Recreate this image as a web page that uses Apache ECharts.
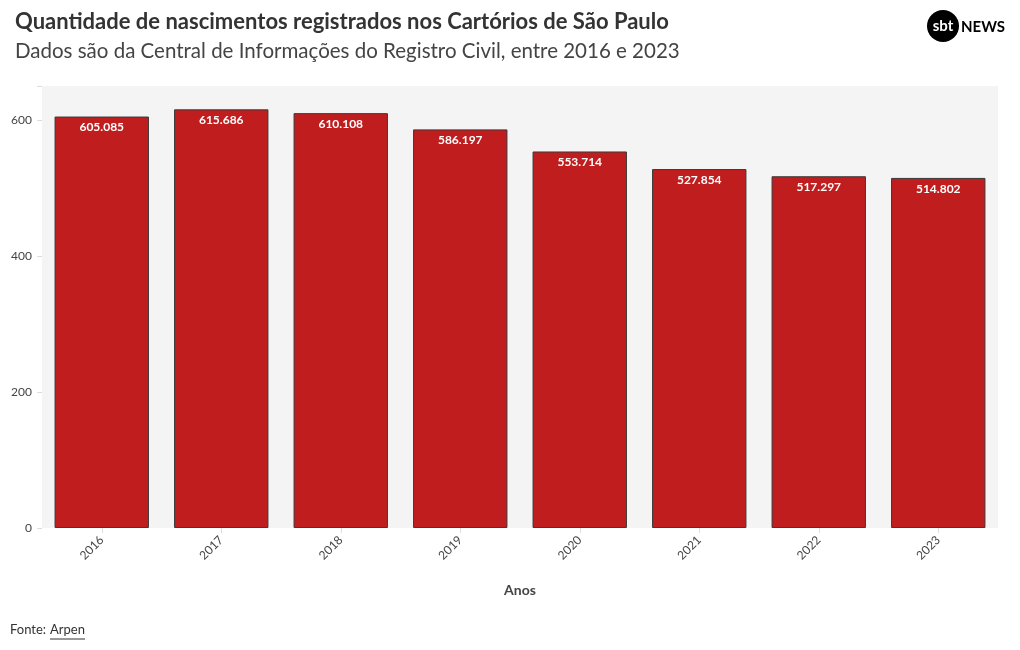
<!DOCTYPE html>
<html>
<head>
<meta charset="utf-8">
<script src="https://cdn.jsdelivr.net/npm/echarts@6/dist/echarts.min.js"></script>
<style>
	html, body { margin: 0; padding: 0; background: #fff; }
	#chart { width: 1020px; height: 650px; }
</style>
</head>
<body>
<div id="chart"></div>
<script>
	// anos e nascimentos (em milhares)
	var anos = ['2016', '2017', '2018', '2019', '2020', '2021', '2022', '2023']
	var nascimentos = [605.085, 615.686, 610.108, 586.197, 553.714, 527.854, 517.297, 514.802]
	var yTicks = [0, 200, 400, 600]

	var fonte = 'Lato, "Noto Sans", sans-serif'
	var chart = echarts.init(document.getElementById('chart'))

	chart.setOption({
		animation: false,
		textStyle: { fontFamily: fonte },
		title: {
			text: 'Quantidade de nascimentos registrados nos Cartórios de São Paulo',
			subtext: 'Dados são da Central de Informações do Registro Civil, entre 2016 e 2023',
			left: 10,
			top: 6,
			itemGap: 8,
			textStyle: { color: '#333', fontSize: 22, fontWeight: 'bold', fontFamily: fonte },
			subtextStyle: { color: '#444', fontSize: 20.5, fontFamily: fonte }
		},
		grid: {
			left: 42,
			right: 22,
			top: 86,
			bottom: 122,
			show: true,
			backgroundColor: '#f4f4f4',
			borderWidth: 0
		},
		xAxis: {
			type: 'category',
			data: anos,
			name: 'Anos',
			nameLocation: 'middle',
			nameGap: 55,
			nameTextStyle: { color: '#444', fontSize: 14, fontWeight: 'bold' },
			axisLine: { show: false },
			axisTick: { show: true, alignWithLabel: true, length: 5, lineStyle: { color: '#ddd' } },
			axisLabel: { rotate: 45, color: '#444', fontSize: 12, margin: 10 }
		},
		yAxis: {
			type: 'value',
			min: 0,
			max: 650,
			interval: 200,
			axisLine: { show: false },
			axisTick: { show: true, length: 5, lineStyle: { color: '#ddd' } },
			splitLine: { show: false },
			axisLabel: {
				color: '#444',
				fontSize: 12,
				margin: 10,
				formatter: function (v) { return yTicks.indexOf(v) >= 0 ? v : '' }
			}
		},
		series: [{
			type: 'bar',
			data: nascimentos,
			barWidth: '79%',
			itemStyle: { color: '#c01d1e', borderColor: '#3a3a3a', borderWidth: 1 },
			label: {
				show: true,
				position: 'insideTop',
				distance: 5,
				color: '#fff',
				fontSize: 12,
				fontWeight: 'bold',
				formatter: function (p) { return p.value.toFixed(3) }
			}
		}],
		graphic: [
			{ type: 'circle', shape: { cx: 943, cy: 26, r: 16 }, style: { fill: '#000' } },
			{ type: 'text', x: 943, y: 26, style: { text: 'sbt', fill: '#fff', font: 'bold 15px ' + fonte, align: 'center', verticalAlign: 'middle' } },
			{ type: 'text', x: 961, y: 27, style: { text: 'NEWS', fill: '#000', font: 'bold 15px ' + fonte, verticalAlign: 'middle' } },
			{ type: 'text', left: 10, top: 623, style: { text: 'Fonte: ', fill: '#333', font: '13px ' + fonte } },
			{ type: 'text', left: 50, top: 623, style: { text: 'Arpen', fill: '#333', font: '13px ' + fonte } },
			{ type: 'line', shape: { x1: 50, y1: 639, x2: 85, y2: 639 }, style: { stroke: '#333', lineWidth: 1 } }
		]
	})
</script>
</body>
</html>
